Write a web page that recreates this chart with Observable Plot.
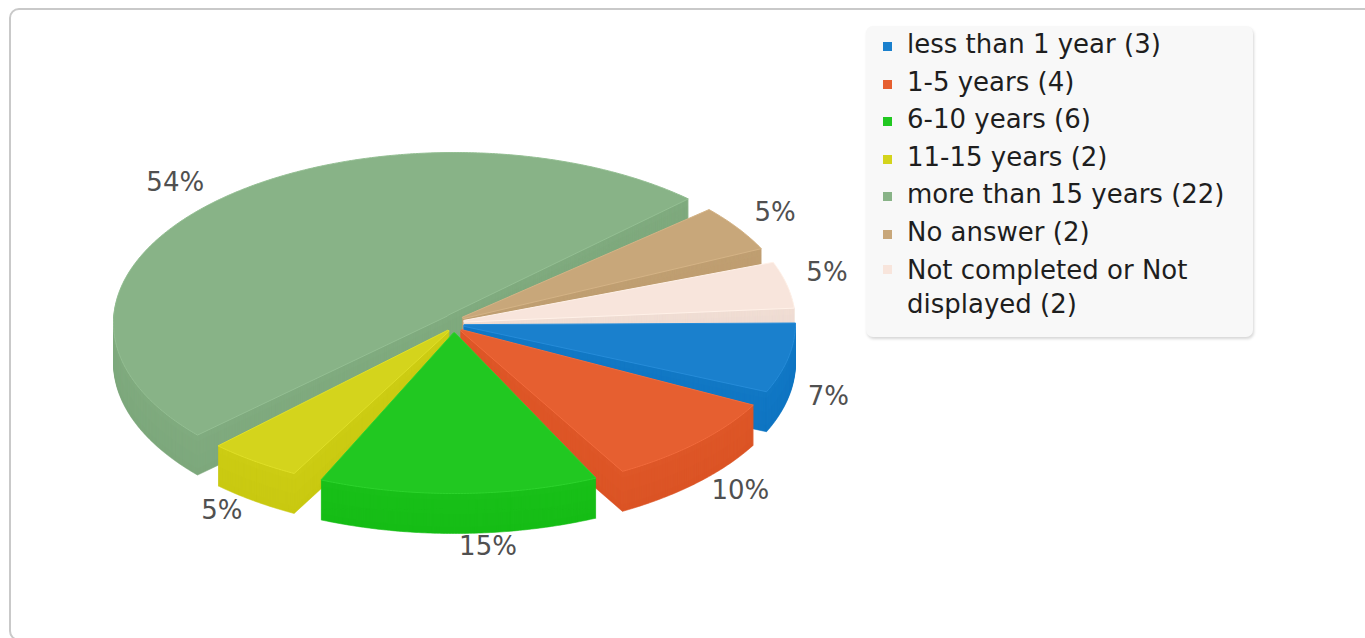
<!DOCTYPE html>
<html>
<head>
<meta charset="utf-8">
<script src="https://cdn.jsdelivr.net/npm/d3@7"></script>
<script src="https://cdn.jsdelivr.net/npm/@observablehq/plot@0.6"></script>
<style>
html, body { margin: 0; padding: 0; width: 1365px; height: 638px; overflow: hidden; background: #ffffff; font-family: "DejaVu Sans", sans-serif; }
#frame { position: absolute; left: 9px; top: 8px; width: 1420px; height: 633px; border: 2px solid #c9c9c9; border-radius: 10px; box-sizing: border-box; }
#chart { position: absolute; left: 0; top: 0; }
#legend { position: absolute; left: 866px; top: 26px; width: 387px; height: 311px; background: #f8f8f8; border-radius: 7px; box-shadow: 1px 2px 3px rgba(0,0,0,0.16); box-sizing: border-box; }
.item { position: relative; padding-left: 41px; font-size: 26px; line-height: 37.5px; color: #1e1e1e; width: 340px; }
.item.wrap { line-height: 34px; padding-top: 2px; width: 300px; }
.sw { position: absolute; left: 17px; top: 16px; width: 9px; height: 9px; }
.item.wrap .sw { top: 14px; }
</style>
</head>
<body>
<div id="frame"></div>
<div id="chart"></div>
<div id="legend"></div>
<script>
// ---- data ----
const categories = ["less than 1 year", "1-5 years", "6-10 years", "11-15 years", "more than 15 years", "No answer", "Not completed or Not displayed"];
const counts = [3, 4, 6, 2, 22, 2, 2];
const colors = ["#1a80cd", "#e65f30", "#21c821", "#d4d41c", "#88b387", "#c8a77a", "#f8e5dc"];

// ---- geometry of the 3D pie (pChart-style) ----
const W = 1365, H = 638;
const cx = 454, cy = 322.5, R = 341, skew = 0.5, depth = 40;
const gapDeg = 5, splice = 10, cdev = 5;
const S = R * skew;
const total = d3.sum(counts);
const ratio = (360 - gapDeg * counts.length) / total;
const rad = a => a * Math.PI / 180;

let angle = 0;
const slices = counts.map((v, i) => {
  const sweep = v * ratio;
  const start = angle;
  const mid = start + (sweep + gapDeg) / 2;
  angle = start + sweep + gapDeg;
  return {i, v, start, sweep, mid, color: colors[i], pct: Math.round(v * 100 / total) + "%"};
});

function outline(s) {
  const pts = [];
  pts.push([cx + Math.cos(rad(s.mid - cdev)) * splice, cy + Math.sin(rad(s.mid - cdev)) * splice]);
  const end = s.start + s.sweep;
  for (let a = s.start; a < end; a += 0.5) pts.push([cx + Math.cos(rad(a)) * R, cy + Math.sin(rad(a)) * S]);
  pts.push([cx + Math.cos(rad(end)) * R, cy + Math.sin(rad(end)) * S]);
  pts.push([cx + Math.cos(rad(s.mid + cdev)) * splice, cy + Math.sin(rad(s.mid + cdev)) * splice]);
  return pts;
}
const outlines = slices.map(outline);

function shade(c, k) {
  const r = d3.rgb(c);
  return d3.rgb(Math.max(0, Math.min(255, r.r + k)), Math.max(0, Math.min(255, r.g + k)), Math.max(0, Math.min(255, r.b + k))).formatHex();
}

// side layers (bottom first), all slices per layer
const sideRows = [];
for (let L = depth; L >= 1; L--) {
  slices.forEach((s, j) => {
    const fill = shade(s.color, -8 - 3 * L / depth);
    outlines[j].forEach(p => sideRows.push({key: L + "-" + j, x: p[0], y: p[1] + L, fill}));
  });
}
// top faces
const topRows = [];
for (let j = slices.length - 1; j >= 0; j--) {
  outlines[j].forEach(p => topRows.push({key: "t" + j, x: p[0], y: p[1], fill: slices[j].color, stroke: shade(slices[j].color, 12)}));
}

// percentage labels
const labels = slices.map(s => {
  const t = s.start + s.sweep / 2;
  const x = cx + Math.cos(rad(t)) * (R + 20);
  const y = (t > 0 && t < 180)
    ? cy + Math.sin(rad(t)) * (S + 19) + depth + 3
    : cy + Math.sin(rad(t)) * (S + 10) - 2;
  return {x, y, text: s.pct, right: t > 90 && t < 270};
});

const chart = Plot.plot({
  width: W, height: H, margin: 0,
  x: {domain: [0, W], range: [0, W], axis: null},
  y: {domain: [0, H], range: [0, H], axis: null},
  color: {type: "identity"},
  style: {background: "none", fontFamily: "DejaVu Sans, sans-serif"},
  marks: [
    Plot.line(sideRows, {x: "x", y: "y", z: "key", fill: "fill", stroke: "fill", strokeWidth: 0.6, curve: "linear-closed"}),
    Plot.line(topRows, {x: "x", y: "y", z: "key", fill: "fill", stroke: "stroke", strokeWidth: 1, curve: "linear-closed"}),
    Plot.text(labels.filter(d => !d.right), {x: "x", y: "y", text: "text", textAnchor: "start", lineAnchor: "bottom", fontSize: 26, fill: "#505050"}),
    Plot.text(labels.filter(d => d.right), {x: "x", y: "y", text: "text", textAnchor: "end", lineAnchor: "bottom", fontSize: 26, fill: "#505050"})
  ]
});
document.getElementById("chart").appendChild(chart);

// legend
const legend = document.getElementById("legend");
categories.forEach((c, i) => {
  const row = document.createElement("div");
  row.className = "item" + (c.length > 25 ? " wrap" : "");
  const sw = document.createElement("span");
  sw.className = "sw";
  sw.style.background = colors[i];
  row.appendChild(sw);
  row.appendChild(document.createTextNode(c + " (" + counts[i] + ")"));
  legend.appendChild(row);
});
</script>
</body>
</html>
